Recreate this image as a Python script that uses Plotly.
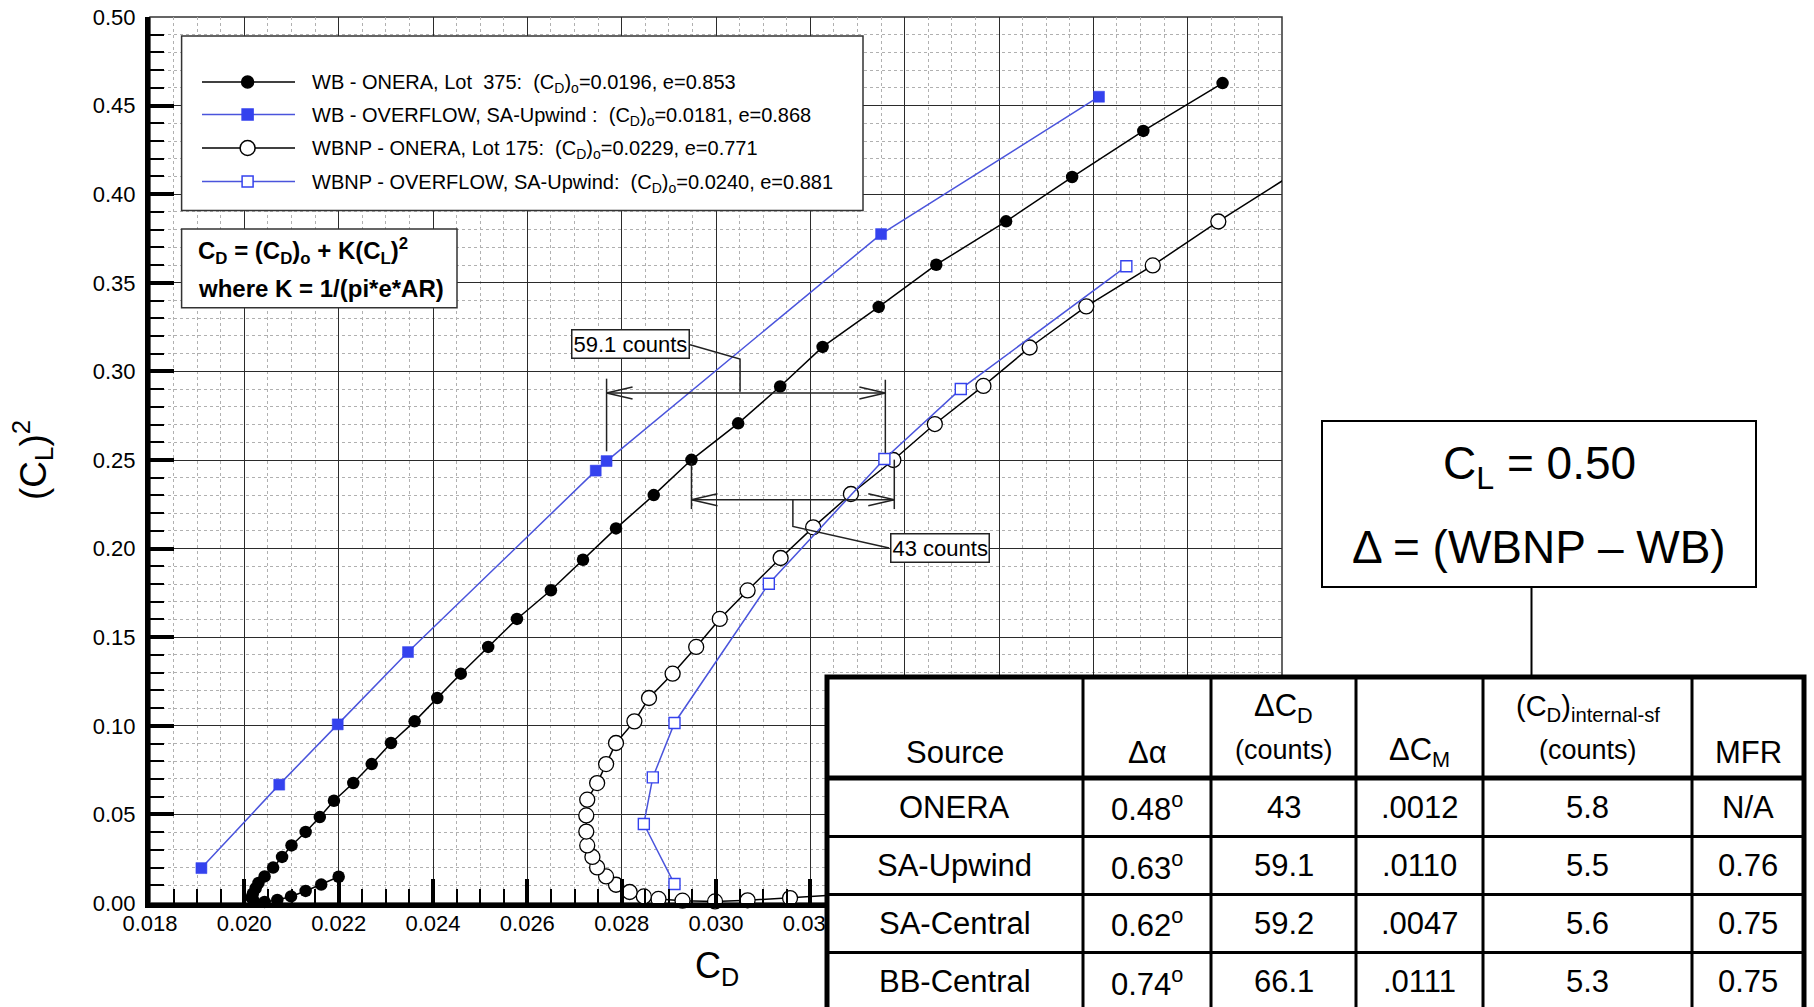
import plotly.graph_objects as go

# ---------------- data ----------------
# WB - ONERA, Lot 375 (filled circles)
wb_onera_cd = [0.02200, 0.02163, 0.02130, 0.02099, 0.02070, 0.02043, 0.02020,
               0.02015, 0.02018, 0.02024, 0.02030, 0.02043, 0.02061, 0.02080,
               0.02100, 0.02130, 0.02160, 0.02190, 0.02231, 0.02270, 0.02311,
               0.02361, 0.02409, 0.02459, 0.02517, 0.02578, 0.02650, 0.02718,
               0.02788, 0.02868, 0.02948, 0.03047, 0.03136, 0.03226, 0.03345,
               0.03467, 0.03615, 0.03755, 0.03906, 0.04074]
wb_onera_cl2 = [0.0148, 0.0104, 0.0068, 0.0037, 0.0017, 0.0006, 0.0012,
                0.0030, 0.0052, 0.0083, 0.0113, 0.0150, 0.0200, 0.0260,
                0.0325, 0.0401, 0.0485, 0.0577, 0.0677, 0.0784, 0.0903,
                0.1025, 0.1157, 0.1294, 0.1445, 0.1603, 0.1765, 0.1937,
                0.2114, 0.2302, 0.2501, 0.2707, 0.2915, 0.3138, 0.3364,
                0.3602, 0.3847, 0.4097, 0.4357, 0.4627]

# WB - OVERFLOW, SA-Upwind (filled squares)
wb_ovf_cd = [0.01909, 0.02074, 0.02198, 0.02347, 0.02745, 0.02768, 0.03350, 0.03812]
wb_ovf_cl2 = [0.0197, 0.0668, 0.1008, 0.1416, 0.2440, 0.2494, 0.3775, 0.4550]

# WBNP - ONERA, Lot 175 (open circles)
wbnp_onera_cd = [0.03260, 0.03157, 0.03067, 0.02998, 0.02929, 0.02878, 0.02847,
                 0.02817, 0.02788, 0.02767, 0.02748, 0.02738, 0.02727, 0.02725,
                 0.02725, 0.02727, 0.02748, 0.02767, 0.02788, 0.02827, 0.02858,
                 0.02908, 0.02958, 0.03008, 0.03067, 0.03137, 0.03206, 0.03286,
                 0.03376, 0.03464, 0.03567, 0.03665, 0.03785, 0.03926, 0.04065,
                 0.04205]
wbnp_onera_cl2 = [0.0046, 0.0028, 0.0015, 0.0009, 0.0013, 0.0023, 0.0037,
                  0.0062, 0.0103, 0.0150, 0.0201, 0.0260, 0.0325, 0.0403,
                  0.0494, 0.0583, 0.0677, 0.0784, 0.0903, 0.1025, 0.1157,
                  0.1294, 0.1445, 0.1603, 0.1764, 0.1947, 0.2120, 0.2308,
                  0.2500, 0.2703, 0.2918, 0.3135, 0.3367, 0.3598, 0.3846,
                  0.4083]

# WBNP - OVERFLOW, SA-Upwind (open squares)
wbnp_ovf_cd = [0.02912, 0.02847, 0.02866, 0.02912, 0.03112, 0.03357, 0.03519, 0.03870]
wbnp_ovf_cl2 = [0.0107, 0.0446, 0.0709, 0.1016, 0.1802, 0.2506, 0.2901, 0.3593]

series_names = [
    "WB - ONERA, Lot\u00a0 375:\u00a0 (C<sub>D</sub>)<sub>o</sub>=0.0196, e=0.853",
    "WB - OVERFLOW, SA-Upwind :\u00a0 (C<sub>D</sub>)<sub>o</sub>=0.0181, e=0.868",
    "WBNP - ONERA, Lot 175:\u00a0 (C<sub>D</sub>)<sub>o</sub>=0.0229, e=0.771",
    "WBNP - OVERFLOW, SA-Upwind:\u00a0 (C<sub>D</sub>)<sub>o</sub>=0.0240, e=0.881",
]

# drag increments at C_L = 0.50 (table)
table_sources = ["ONERA", "SA-Upwind", "SA-Central", "BB-Central"]
table_dalpha = [0.48, 0.63, 0.62, 0.74]
table_dcd_counts = [43, 59.1, 59.2, 66.1]
table_dcm = [".0012", ".0110", ".0047", ".0111"]
table_cd_internal = [5.8, 5.5, 5.6, 5.3]
table_mfr = ["N/A", "0.76", "0.75", "0.75"]

# start of the dimension arrows (C_D where the WB curve crosses C_L^2 = 0.25)
gap_start_upwind = 0.02768
gap_start_onera = 0.02948

x_range = [0.018, 0.042]
y_range = [0.0, 0.5]
x_ticks = [round(0.018 + 0.002 * i, 3) for i in range(13)]

# ---------------- layout helpers ----------------
FONT = "Liberation Sans, Arial, Helvetica, sans-serif"
W, H = 1814, 1007
ML, MR, MT, MB = 150, 532, 17, 104
PW = W - ML - MR
PH = H - MT - MB
TABLE_LEFT = 827  # left edge of the results table (figure px)


def px(x):
    """figure pixel column -> paper x"""
    return (x - ML) / PW


def py(y):
    """figure pixel row -> paper y"""
    return (H - MB - y) / PH


# data units per screen pixel
DX = (x_range[1] - x_range[0]) / PW
DY = (y_range[1] - y_range[0]) / PH

# tick labels that sit entirely under the results table are left blank
x_ticktext = [f"{v:.3f}" if ML + (v - x_range[0]) / DX - 27 < TABLE_LEFT else ""
              for v in x_ticks]

BLUE_MARK = "#3442ee"
BLUE_LINE = "#4a54dc"
INK = "#222222"

fig = go.Figure()

fig.add_trace(go.Scatter(
    x=wb_onera_cd, y=wb_onera_cl2, mode="lines+markers", name=series_names[0],
    line=dict(color="black", width=1.5),
    marker=dict(symbol="circle", size=12.5, color="black"),
    cliponaxis=False))

sizes_open = [15 if x_range[0] <= v <= x_range[1] else 0 for v in wbnp_onera_cd]
fig.add_trace(go.Scatter(
    x=wbnp_onera_cd, y=wbnp_onera_cl2, mode="lines+markers", name=series_names[2],
    line=dict(color="black", width=1.5),
    marker=dict(symbol="circle", size=sizes_open, color="white", opacity=1,
                line=dict(color="black", width=1.3)),
    cliponaxis=False))

fig.add_trace(go.Scatter(
    x=wb_ovf_cd, y=wb_ovf_cl2, mode="lines+markers", name=series_names[1],
    line=dict(color=BLUE_LINE, width=1.5),
    marker=dict(symbol="square", size=11, color=BLUE_MARK,
                line=dict(color=BLUE_MARK, width=0.5)),
    cliponaxis=False))

fig.add_trace(go.Scatter(
    x=wbnp_ovf_cd, y=wbnp_ovf_cl2, mode="lines+markers", name=series_names[3],
    line=dict(color=BLUE_LINE, width=1.5),
    marker=dict(symbol="square", size=11, color="white", opacity=1,
                line=dict(color=BLUE_MARK, width=1.4)),
    cliponaxis=False))

shapes = []
annotations = []

# plot frame (thin top / right edges)
shapes.append(dict(type="rect", xref="paper", yref="paper", x0=0, x1=1, y0=0, y1=1,
                   line=dict(color="#333333", width=1.5), layer="below"))


def text(x, y, s, size, xanchor="center", angle=0, **kw):
    annotations.append(dict(xref="paper", yref="paper", x=px(x), y=py(y), text=s,
                            showarrow=False, xanchor=xanchor, yanchor="middle",
                            textangle=angle,
                            font=dict(family=FONT, size=size, color="black"), **kw))


# ---------------- dimension arrows ----------------
def dim_arrow(x_left, x_right, y, ext_left, ext_right):
    out = [dict(type="line", xref="x", yref="y", x0=x_left, x1=x_right, y0=y, y1=y,
                line=dict(color=INK, width=1.5))]
    for xt, sgn in ((x_left, 1), (x_right, -1)):
        for dy in (6, -6):
            out.append(dict(type="line", xref="x", yref="y", x0=xt, y0=y,
                            x1=xt + sgn * 26 * DX, y1=y + dy * DY,
                            line=dict(color=INK, width=1.5)))
    out.append(dict(type="line", xref="x", yref="y", x0=x_left, x1=x_left,
                    y0=ext_left[0], y1=ext_left[1], line=dict(color=INK, width=1.5)))
    out.append(dict(type="line", xref="x", yref="y", x0=x_right, x1=x_right,
                    y0=ext_right[0], y1=ext_right[1], line=dict(color=INK, width=1.5)))
    return out


upwind_gap = table_dcd_counts[1] * 1e-4
onera_gap = table_dcd_counts[0] * 1e-4

shapes += dim_arrow(gap_start_upwind, gap_start_upwind + upwind_gap, 0.2878,
                    (0.2549, 0.2959), (0.2540, 0.2953))
shapes += dim_arrow(gap_start_onera, gap_start_onera + onera_gap, 0.2276,
                    (0.2223, 0.2483), (0.2223, 0.2502))

# leader lines from the labels to the arrows
shapes.append(dict(type="path", xref="x", yref="y",
                   path="M0.02945,0.3150 L0.03051,0.3070 L0.03051,0.2885",
                   line=dict(color=INK, width=1.5)))
shapes.append(dict(type="path", xref="x", yref="y",
                   path="M0.03163,0.2276 L0.03163,0.2125 L0.03367,0.2003",
                   line=dict(color=INK, width=1.5)))

for xc, yc, val in ((0.028182, 0.3156, table_dcd_counts[1]),
                    (0.034757, 0.2001, table_dcd_counts[0])):
    annotations.append(dict(xref="x", yref="y", x=xc, y=yc, xanchor="center",
                            yanchor="middle", text=f"{val:g} counts", showarrow=False,
                            font=dict(family=FONT, size=22, color="black"),
                            bgcolor="white", bordercolor=INK, borderwidth=1.5,
                            borderpad=1))

# ---------------- legend box ----------------
shapes.append(dict(type="rect", xref="paper", yref="paper",
                   x0=px(181.6), x1=px(863), y0=py(210.6), y1=py(35.9),
                   line=dict(color="#333333", width=1.5), fillcolor="white", layer="above"))
leg_rows = [82, 114.5, 148, 181.6]
leg_styles = [
    dict(line="black", shape="circle", fill="black", edge="black", r=6),
    dict(line=BLUE_LINE, shape="rect", fill=BLUE_MARK, edge=BLUE_MARK, r=5.5),
    dict(line="black", shape="circle", fill="white", edge="black", r=7.5),
    dict(line=BLUE_LINE, shape="rect", fill="white", edge=BLUE_MARK, r=5.5),
]
for ry, st, name in zip(leg_rows, leg_styles, series_names):
    shapes.append(dict(type="line", xref="paper", yref="paper",
                       x0=px(202), x1=px(295), y0=py(ry), y1=py(ry),
                       line=dict(color=st["line"], width=1.5), layer="above"))
    cx, r = 247.6, st["r"]
    shapes.append(dict(type=st["shape"], xref="paper", yref="paper",
                       x0=px(cx - r), x1=px(cx + r), y0=py(ry + r), y1=py(ry - r),
                       fillcolor=st["fill"], line=dict(color=st["edge"], width=1.5),
                       layer="above"))
    text(310, ry + 1.5, name, 20, xanchor="left")

# ---------------- drag polar formula box ----------------
shapes.append(dict(type="rect", xref="paper", yref="paper",
                   x0=px(181.6), x1=px(457), y0=py(307.8), y1=py(229),
                   line=dict(color="#333333", width=1.5), fillcolor="white", layer="above"))
text(196, 251,
     "<b>C<sub>D</sub> = (C<sub>D</sub>)<sub>o</sub> + K(C<sub>L</sub>)<sup>2</sup></b>",
     24, xanchor="left")
text(196, 288, "<b>where K = 1/(pi*e*AR)</b>", 24, xanchor="left")

# ---------------- axis titles ----------------
text(717, 968, "C<sub>D</sub>", 36)
text(32, 460, "(C<sub>L</sub>)<sup>2</sup>", 37, angle=-90)

# ---------------- C_L = 0.50 box ----------------
shapes.append(dict(type="rect", xref="paper", yref="paper",
                   x0=px(1322), x1=px(1756), y0=py(587), y1=py(421),
                   line=dict(color="black", width=2), fillcolor="white", layer="above"))
shapes.append(dict(type="line", xref="paper", yref="paper",
                   x0=px(1531.5), x1=px(1531.5), y0=py(678), y1=py(587),
                   line=dict(color="black", width=2), layer="above"))
text(1539, 466, "C<sub>L</sub> = 0.50", 46)
text(1539, 547, "\u0394 = (WBNP \u2013 WB)", 46)

# ---------------- results table ----------------
col_x = [TABLE_LEFT, 1083, 1211, 1356, 1483, 1692, 1804]
row_y = [677, 778, 836.5, 894.5, 952.5, 1010.5]
shapes.append(dict(type="rect", xref="paper", yref="paper",
                   x0=px(col_x[0]), x1=px(col_x[-1]), y0=py(row_y[-1] + 4), y1=py(row_y[0]),
                   line=dict(color="black", width=5), fillcolor="white", layer="above"))
for cx in col_x[1:-1]:
    shapes.append(dict(type="line", xref="paper", yref="paper",
                       x0=px(cx), x1=px(cx), y0=py(row_y[-1] + 4), y1=py(row_y[0]),
                       line=dict(color="black", width=3), layer="above"))
shapes.append(dict(type="line", xref="paper", yref="paper",
                   x0=px(col_x[0]), x1=px(col_x[-1]), y0=py(row_y[1]), y1=py(row_y[1]),
                   line=dict(color="black", width=5), layer="above"))
for ry in row_y[2:-1]:
    shapes.append(dict(type="line", xref="paper", yref="paper",
                       x0=px(col_x[0]), x1=px(col_x[-1]), y0=py(ry), y1=py(ry),
                       line=dict(color="black", width=3), layer="above"))

col_cx = [(a + b) / 2 for a, b in zip(col_x[:-1], col_x[1:])]

# header
text(col_cx[0], 752, "Source", 31)
text(col_cx[1], 752, "\u0394\u03b1", 31)
text(col_cx[2], 708, "\u0394C<sub>D</sub>", 31)
text(col_cx[2], 750, "(counts)", 27)
text(col_cx[3], 752, "\u0394C<sub>M</sub>", 31)
text(col_cx[4], 708, "(C<sub>D</sub>)<sub>internal-sf</sub>", 29)
text(col_cx[4], 750, "(counts)", 27)
text(col_cx[5], 752, "MFR", 31)

row_cy = [(a + b) / 2 for a, b in zip(row_y[1:-1], row_y[2:])]
for i, cy in enumerate(row_cy):
    text(col_cx[0], cy, table_sources[i], 31)
    text(col_cx[1], cy, f"{table_dalpha[i]:.2f}<sup>o</sup>", 31)
    text(col_cx[2], cy, f"{table_dcd_counts[i]:g}", 31)
    text(col_cx[3], cy, table_dcm[i], 31)
    text(col_cx[4], cy, f"{table_cd_internal[i]:.1f}", 31)
    text(col_cx[5], cy, table_mfr[i], 31)

# ---------------- axes ----------------
axis_common = dict(
    showgrid=True, gridcolor="#2b2b2b", gridwidth=1.3,
    showline=True, linecolor="black", linewidth=5,
    ticks="inside", tickcolor="black", tickwidth=4, ticklen=24,
    tickfont=dict(family=FONT, size=22, color="black"),
    zeroline=False, mirror=False, automargin=False,
)

fig.update_layout(
    width=W, height=H,
    margin=dict(l=ML, r=MR, t=MT, b=MB, pad=0, autoexpand=False),
    paper_bgcolor="white", plot_bgcolor="white",
    showlegend=False,
    font=dict(family=FONT, color="black"),
    xaxis=dict(range=x_range, tickmode="array", tickvals=x_ticks, ticktext=x_ticktext,
               minor=dict(tick0=0.018, dtick=0.0005, ticks="inside", ticklen=14,
                          tickwidth=1.5, tickcolor="black", showgrid=True,
                          gridcolor="#b0b0b0", griddash="dot", gridwidth=1),
               ticklabelstandoff=-3, **axis_common),
    yaxis=dict(range=y_range, tick0=0, dtick=0.05, tickformat=".2f",
               minor=dict(dtick=0.01, ticks="inside", ticklen=14, tickwidth=1.5,
                          tickcolor="black", showgrid=True, gridcolor="#b0b0b0",
                          griddash="dot", gridwidth=1),
               ticklabelstandoff=5, **axis_common),
    shapes=shapes,
    annotations=annotations,
)

fig.write_html("out.html")
